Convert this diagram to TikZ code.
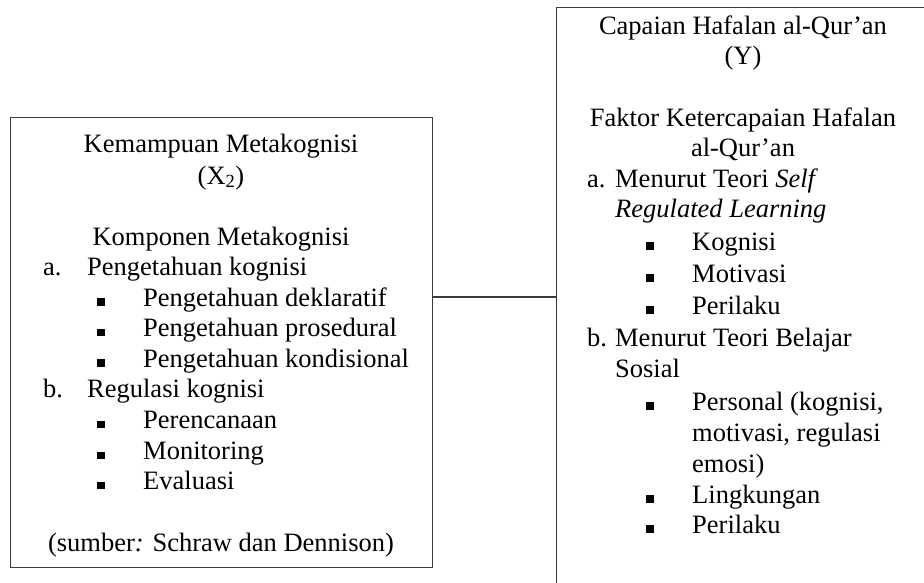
\documentclass[tikz,border=0pt]{standalone}
\usepackage{fontspec}
\setmainfont{Liberation Serif}
\definecolor{linegray}{RGB}{60,60,60}
\newcommand\bodyfont{\fontsize{26.5pt}{30.6pt}\selectfont}
\newcommand\sqbul{\makebox[46pt][l]{\rule[0.5pt]{7.5pt}{7.5pt}}}
\begin{document}
\begin{tikzpicture}[x=1pt,y=-1pt,
  boxline/.style={draw=linegray, line width=1.4pt},
  ctr/.style={inner sep=0pt, anchor=base, font=\bodyfont},
  lft/.style={inner sep=0pt, anchor=base west, font=\bodyfont}]
\useasboundingbox (0,0) rectangle (924,583);
\clip (0,0) rectangle (924,583);
% boxes
\node[boxline, inner sep=0pt, minimum width=422pt, minimum height=450pt, anchor=north west] (L) at (10,117) {};
\node[boxline, inner sep=0pt, minimum width=380pt, minimum height=620pt, anchor=north west] (R) at (556,7) {};
\coordinate (cy) at (0,297);
\draw[boxline] (L.east |- cy) -- (R.west |- cy);
% left box text
\node[ctr] (l1) at (221,153) {Kemampuan Metakognisi};
\node[ctr] (l2) at (221,184) {(X\textsubscript{2})};
\node[ctr] (l4) at (221,245) {Komponen Metakognisi};
\node[lft] (l5) at (43,275.5) {\makebox[44pt][l]{a.}Pengetahuan kognisi};
\node[lft] (l6) at (97,306) {\sqbul Pengetahuan deklaratif};
\node[lft] (l7) at (97,336.5) {\sqbul Pengetahuan prosedural};
\node[lft] (l8) at (97,367) {\sqbul Pengetahuan kondisional};
\node[lft] (l9) at (43,397.5) {\makebox[44pt][l]{b.}Regulasi kognisi};
\node[lft] (l10) at (97,428.5) {\sqbul Perencanaan};
\node[lft] (l11) at (97,459.5) {\sqbul Monitoring};
\node[lft] (l12) at (97,489.5) {\sqbul Evaluasi};
\node[ctr] (l14) at (221,551.5) {(sumber\textit{:} Schraw dan Dennison)};
% right box text
\node[ctr] (r1) at (743,35) {Capaian Hafalan al-Qur’an};
\node[ctr] (r2) at (743,65) {(Y)};
\node[ctr] (r4) at (743,127) {Faktor Ketercapaian Hafalan};
\node[ctr] (r5) at (743,157) {al-Qur’an};
\node[lft] (r6) at (587,187) {\makebox[28pt][l]{a.}Menurut Teori \textit{Self}};
\node[lft] (r7) at (615,218) {\textit{Regulated Learning}};
\node[lft] (r8) at (646,250) {\sqbul Kognisi};
\node[lft] (r9) at (646,282) {\sqbul Motivasi};
\node[lft] (r10) at (646,314) {\sqbul Perilaku};
\node[lft] (r11) at (587,346) {\makebox[28pt][l]{b.}Menurut Teori Belajar};
\node[lft] (r12) at (615,377.5) {Sosial};
\node[lft] (r13) at (646,410) {\sqbul Personal (kognisi,};
\node[lft] (r14) at (692,441) {motivasi, regulasi};
\node[lft] (r15) at (692,472) {emosi)};
\node[lft] (r16) at (646,503) {\sqbul Lingkungan};
\node[lft] (r17) at (646,533) {\sqbul Perilaku};
\end{tikzpicture}
\end{document}
